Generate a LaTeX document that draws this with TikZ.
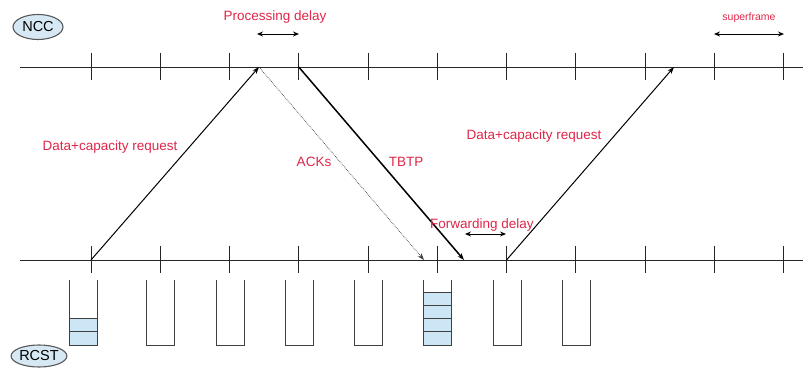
\documentclass[tikz,border=0pt]{standalone}
\usepackage{fontspec}
\setmainfont{Liberation Sans}
\usetikzlibrary{shapes.geometric,arrows.meta}
\definecolor{lblred}{RGB}{222,38,72}
\definecolor{cellblue}{RGB}{205,230,245}
\definecolor{ovalfill}{RGB}{214,232,244}
\tikzset{
  axisline/.style={line width=0.9pt, black!85},
  tickmark/.style={line width=0.9pt, black!85},
  msg/.style={line width=1pt, -{Stealth[length=7pt,width=5pt]}},
  ackmsg/.style={line width=0.7pt, black!75, densely dotted, -{Stealth[length=7pt,width=5pt]}},
  grantmsg/.style={line width=1.5pt, -{Stealth[length=7pt,width=5pt]}},
  span/.style={line width=0.9pt, {Stealth[length=6pt,width=5pt]}-{Stealth[length=6pt,width=5pt]}},
  lbl/.style={text=lblred, font=\fontsize{13.5}{15}\selectfont, inner sep=0pt},
  smalllbl/.style={text=lblred, font=\fontsize{10.5}{12}\selectfont, inner sep=0pt},
  station/.style={ellipse, draw=black!65, line width=1.1pt, fill=ovalfill, inner sep=0pt,
    font=\fontsize{14.5}{16}\selectfont},
  bufwall/.style={line width=0.9pt, black!75},
  cell/.style={fill=cellblue, draw=black!75, line width=0.8pt}
}
\begin{document}
\begin{tikzpicture}[x=1pt,y=-1pt]
\useasboundingbox (0,0) rectangle (803,371);

% station labels
\node[station, minimum width=50pt, minimum height=25pt] (ncc) at (38,27) {NCC};
\node[station, minimum width=52pt, minimum height=22pt] (rcst) at (39,356) {RCST};

% time axes
\coordinate (topL) at (20,67);  \coordinate (topR) at (803,67);
\coordinate (botL) at (20,260); \coordinate (botR) at (803,260);
\draw[axisline] (topL) -- (topR);
\draw[axisline] (botL) -- (botR);

% superframe boundaries on both axes
\foreach \i in {0,...,10} {
  \pgfmathsetmacro{\xx}{91+69.25*\i}
  \coordinate (t\i) at (\xx,67);
  \coordinate (b\i) at (\xx,260);
  \draw[tickmark] (\xx,53) -- (\xx,80);
  \draw[tickmark] (\xx,246) -- (\xx,273);
}

% message end points
\coordinate (req1top) at (259,67);
\coordinate (ackbot) at (424,260);
\coordinate (tbtpbot) at (464,260);
\coordinate (req2top) at (674,67);

% messages
\draw[msg] (b0) -- (req1top);
\draw[ackmsg] (req1top) -- (ackbot);
\draw[grantmsg] (t3) -- (tbtpbot);
\draw[msg] (b6) -- (req2top);

% delay spans
\coordinate (pd1) at (257,34); \coordinate (pd2) at (299,34);
\draw[span] (pd1) -- (pd2);
\coordinate (sf1) at (714,34); \coordinate (sf2) at (784,34);
\draw[span] (sf1) -- (sf2);
\coordinate (fd1) at (465,234); \coordinate (fd2) at (506,234);
\draw[span] (fd1) -- (fd2);

% labels
\node[lbl] (lpd) at (275,17) {Processing delay};
\node[smalllbl] (lsf) at (749,18) {superframe};
\node[lbl] (lreq1) at (110,147) {Data+capacity request};
\node[lbl] (lreq2) at (534,136) {Data+capacity request};
\node[lbl] (lack) at (314,162) {ACKs};
\node[lbl] (ltbtp) at (406,162) {TBTP};
\node[lbl] (lfd) at (482,225) {Forwarding delay};

% RCST queue occupancy per superframe
\foreach \bx/\n in {69/2,146/0,216/0,285/0,354/0,423/4,493/0,562/0} {
  \ifnum\n>0
    \foreach \k in {1,...,\n} {
      \draw[cell] (\bx,{345-13.25*\k}) rectangle ({\bx+28},{345-13.25*(\k-1)});
    }
  \fi
  \draw[bufwall] (\bx,280) -- (\bx,345) -- ({\bx+28},345) -- ({\bx+28},280);
}
\end{tikzpicture}
\end{document}
